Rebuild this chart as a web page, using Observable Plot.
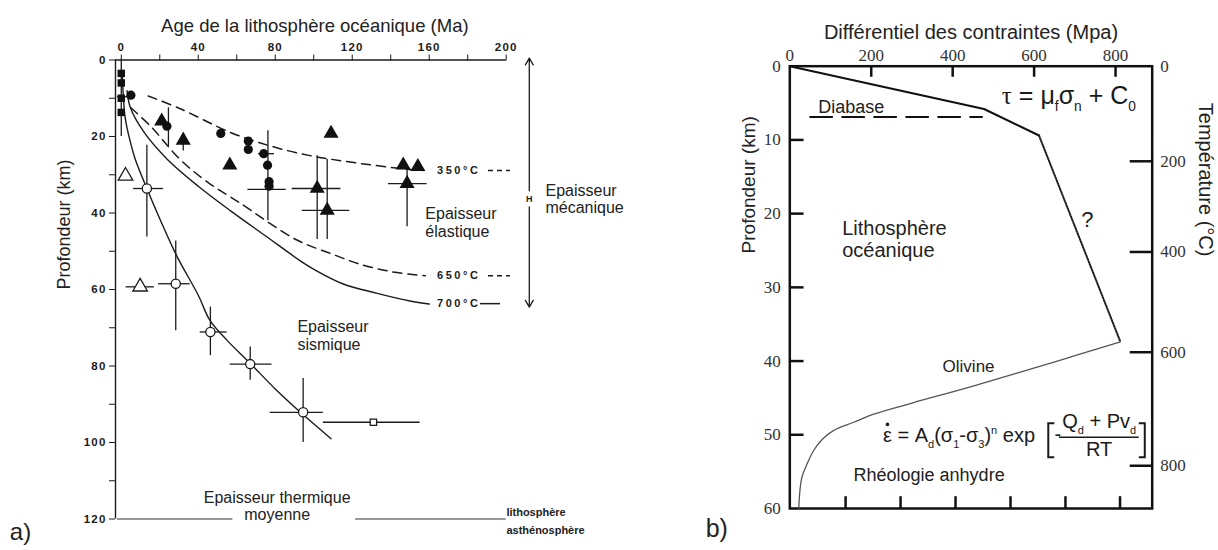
<!DOCTYPE html>
<html><head><meta charset="utf-8">
<script src="https://cdn.jsdelivr.net/npm/d3@7"></script>
<script src="https://cdn.jsdelivr.net/npm/@observablehq/plot@0.6"></script>
<style>
body{margin:0;background:#fff;}
#wrap{position:relative;width:1218px;height:550px;overflow:hidden;}
#wrap svg{position:absolute;top:0;}
</style></head><body><div id="wrap"></div>
<script>
// ================= Panel a) : age vs depth =================
const ageTicks = [0, 20, 40, 60, 80, 100, 120, 140, 160, 180, 200];
const ageLabels = [0, 40, 80, 120, 160, 200];
const depthTicksA = [0, 10, 20, 30, 40, 50, 60, 70, 80, 90, 100, 110, 120];
const depthLabelsA = [0, 20, 40, 60, 80, 100, 120];

const iso350Age = [14, 30, 58, 79, 98, 115, 131, 145, 157];
const iso350Depth = [9.4, 12.6, 19.2, 22.7, 25, 26.4, 27.5, 28.4, 28.9];
const iso650Age = [5, 15.4, 30.6, 45, 60.8, 91, 110, 122.8, 140, 158];
const iso650Depth = [12.5, 17.4, 26, 32, 37.1, 47, 50.8, 53.2, 55.3, 56.4];
const iso700Age = [3, 4.7, 12, 24, 40, 57, 75, 93, 101, 115, 133, 150, 160];
const iso700Depth = [8, 12.4, 19, 26, 33, 39.5, 46, 52.5, 55, 58.5, 61, 63, 63.8];
const seisCurveAge = [0.5, 2, 5, 7.3, 13.3, 20, 29, 40, 46, 55, 67, 80, 94, 109];
const seisCurveDepth = [3, 15, 22, 26, 33.6, 41.5, 51.4, 61.5, 68, 73.3, 79.3, 86, 92.5, 99];

// seismic thickness points (open circles) with error bars
const seisPtAge = [13.3, 28.3, 46.3, 67, 94.5];
const seisPtDepth = [33.6, 58.5, 71.1, 79.5, 92.1];
const seisAgeLo = [6.4, 19.4, 41, 56.6, 77.4];
const seisAgeHi = [22, 35.8, 55, 78.3, 105];
const seisDepthLo = [22.3, 47.3, 64.6, 75, 83.3];
const seisDepthHi = [46.3, 70.8, 77.3, 83.7, 100];
// open square & open triangles
const openSqAge = [131], openSqDepth = [94.7], openSqAgeLo = [105], openSqAgeHi = [155.3];
const openTriAge = [2.2, 9.8], openTriDepth = [30.3, 59.3];
const openTriAgeLo = [null, 2.5], openTriAgeHi = [null, 17.2];
// elastic / mechanical data (filled symbols)
const circAge = [5, 23.7, 51.7, 66, 66, 74, 76, 76.8, 76.8];
const circDepth = [9.2, 17.3, 19.2, 21.2, 23.4, 24.5, 27.5, 31.8, 33.0];
const triAge = [21, 32.2, 56.4, 109, 101.8, 107, 146.5, 154.1, 148.5];
const triDepth = [16, 21, 27.5, 19.2, 33.6, 39.3, 27.5, 27.9, 32.3];
const sqAge = [0, 0, 0, 0];
const sqDepth = [3.5, 6, 10, 13.7];
const hBarDepth = [33.8, 33.6, 39.3, 32.3, 24.5, 9.6];
const hBarLo = [65.8, 88.8, 94, 138.8, 71.3, -2];
const hBarHi = [85.7, 114.1, 118.7, 158.9, 79.6, 4];
const vBarAge = [0, 24.5, 32.2, 76.2, 101.8, 107, 148.5];
const vBarLo = [0, 12.5, 19.6, 18.5, 25, 26, 28.5];
const vBarHi = [20, 22.6, 23.8, 42, 46.9, 46.9, 43.6];

// ================= Panel b) : strength envelope =================
const stressTicks = [0, 200, 400, 600, 800];
const depthTicksB = [0, 10, 20, 30, 40, 50, 60];
const tempTicks = [0, 200, 400, 600, 800];
const tempTickDepth = [0, 12.9, 25.2, 38.8, 54.2];
const bottomTickStress = [137, 272, 407, 542, 677, 811];
const brittleStress = [0, 477, 612];
const brittleDepth = [0, 5.8, 9.4];
const transStress = [612, 812];
const transDepth = [9.4, 37.4];
const olivineStress = [812, 657, 450, 300, 206, 157, 108, 80, 59, 42, 30, 25, 22];
const olivineDepth = [37.4, 40, 43.4, 45.7, 47.2, 48.3, 49.4, 50.6, 52.1, 54, 55.7, 57.5, 60];
const diabaseStress = [50, 472];
const diabaseDepth = [6.9, 6.9];

// ================= helpers =================
const F = "'Liberation Sans', Arial, Helvetica, sans-serif";
const SERIF = "'Liberation Serif', 'Times New Roman', serif";
const INK = "#1b1b1b";
const pts = (xs, ys) => xs.map((x, i) => ({x, y: ys[i]}));
const wrap = document.getElementById("wrap");

// ================= Plot a) =================
const bars = (lo, hi, at) => lo.map((l, i) => ({lo: l, hi: hi[i], at: at[i]})).filter(d => d.lo != null);

const left = Plot.plot({
  width: 640, height: 550,
  marginLeft: 115, marginRight: 134.3, marginTop: 59.5, marginBottom: 31.5,
  style: {fontFamily: F, color: INK, background: "transparent"},
  x: {domain: [-3, 200]},
  y: {domain: [0, 120], reverse: true},
  marks: [
    Plot.axisX(ageTicks, {anchor: "top", tickSize: 6, tickPadding: 3, tickFormat: d => ageLabels.includes(d) ? String(d) : "", fontSize: 11.5, fontWeight: "bold", label: null}),
    Plot.axisY(depthTicksA, {anchor: "left", tickSize: 6, tickPadding: 3, tickFormat: d => depthLabelsA.includes(d) ? String(d) : "", fontSize: 11.5, fontWeight: "bold", label: null}),
    Plot.ruleY([0], {x1: -3, x2: 200, stroke: INK, strokeWidth: 1.4}),
    Plot.ruleX([-3], {y1: 0, y2: 120, stroke: INK, strokeWidth: 1.4}),
    // curves
    Plot.line(pts(iso350Age, iso350Depth), {x: "x", y: "y", stroke: INK, strokeWidth: 1.5, strokeDasharray: "9,6", curve: "catmull-rom"}),
    Plot.line(pts(iso650Age, iso650Depth), {x: "x", y: "y", stroke: INK, strokeWidth: 1.5, strokeDasharray: "9,6", curve: "catmull-rom"}),
    Plot.line(pts(iso700Age, iso700Depth), {x: "x", y: "y", stroke: INK, strokeWidth: 1.4, curve: "catmull-rom"}),
    Plot.line(pts(seisCurveAge, seisCurveDepth), {x: "x", y: "y", stroke: INK, strokeWidth: 1.4, curve: "catmull-rom"}),
    // error bars
    Plot.ruleY(bars(seisAgeLo, seisAgeHi, seisPtDepth), {y: "at", x1: "lo", x2: "hi", stroke: INK, strokeWidth: 1.3}),
    Plot.ruleX(bars(seisDepthLo, seisDepthHi, seisPtAge), {x: "at", y1: "lo", y2: "hi", stroke: INK, strokeWidth: 1.3}),
    Plot.ruleY(bars(openSqAgeLo, openSqAgeHi, openSqDepth), {y: "at", x1: "lo", x2: "hi", stroke: INK, strokeWidth: 1.3}),
    Plot.ruleY(bars(openTriAgeLo, openTriAgeHi, openTriDepth), {y: "at", x1: "lo", x2: "hi", stroke: INK, strokeWidth: 1.3}),
    Plot.ruleY(bars(hBarLo, hBarHi, hBarDepth), {y: "at", x1: "lo", x2: "hi", stroke: INK, strokeWidth: 1.3}),
    Plot.ruleX(bars(vBarLo, vBarHi, vBarAge), {x: "at", y1: "lo", y2: "hi", stroke: INK, strokeWidth: 1.3}),
    // symbols
    Plot.dot(pts(sqAge, sqDepth), {x: "x", y: "y", symbol: "square", r: 4.2, fill: "#111", stroke: "none"}),
    Plot.dot(pts(circAge, circDepth), {x: "x", y: "y", symbol: "circle", r: 4.6, fill: "#111", stroke: "none"}),
    Plot.dot(pts(triAge, triDepth), {x: "x", y: "y", symbol: "triangle", r: 5.6, fill: "#111", stroke: "none"}),
    Plot.dot(pts(seisPtAge, seisPtDepth), {x: "x", y: "y", symbol: "circle", r: 4.6, fill: "white", stroke: INK, strokeWidth: 1.3}),
    Plot.dot(pts(openSqAge, openSqDepth), {x: "x", y: "y", symbol: "square", r: 3.6, fill: "white", stroke: INK, strokeWidth: 1.3}),
    Plot.dot(pts(openTriAge, openTriDepth), {x: "x", y: "y", symbol: "triangle", r: 5.4, fill: "white", stroke: INK, strokeWidth: 1.3}),
    // isotherm labels
    Plot.text([{t: "350°C", x: 164, y: 28.9}, {t: "650°C", x: 164, y: 56.4}, {t: "700°C", x: 164, y: 63.7}],
      {x: "x", y: "y", text: "t", textAnchor: "start", fontSize: 11, fontWeight: "bold", fill: INK}),
    Plot.ruleY([{y: 28.9, a: 190.8, b: 202.2}, {y: 56.4, a: 190.8, b: 202.2}], {y: "y", x1: "a", x2: "b", stroke: INK, strokeWidth: 1.5, strokeDasharray: "5,4"}),
    Plot.ruleY([{y: 63.7, a: 186.6, b: 197}], {y: "y", x1: "a", x2: "b", stroke: INK, strokeWidth: 1.5}),
    // thermal thickness line at 120 km
    Plot.ruleY([{y: 120, a: -2, b: 58}, {y: 120, a: 121.8, b: 200}], {y: "y", x1: "a", x2: "b", stroke: "#777", strokeWidth: 1.3}),
    // mechanical thickness arrow
    Plot.arrow([{x: 212, a: 34.2, b: -0.5}, {x: 212, a: 38.4, b: 64.6}], {x: "x", y1: "a", y2: "b", stroke: INK, strokeWidth: 1.3, headLength: 9}),
    Plot.text([{x: 212, y: 36.3}], {x: "x", y: "y", text: () => "H", fontSize: 9, fontWeight: "bold", fill: INK}),
    // labels
    Plot.text([
      {t: "Epaisseur\nélastique", x: 158, y: 42.4},
      {t: "Epaisseur\nsismique", x: 91.5, y: 72},
      {t: "Epaisseur\nmécanique", x: 220.4, y: 36.3}
    ], {x: "x", y: "y", text: "t", textAnchor: "start", fontSize: 16, lineHeight: 1.1, fill: "#222"}),
    Plot.text([{t: "Epaisseur thermique\nmoyenne", x: 81, y: 116.7}], {x: "x", y: "y", text: "t", textAnchor: "middle", fontSize: 16, lineHeight: 1.05, fill: "#222"}),
    Plot.text([{t: "lithosphère\nasthénosphère", x: 200.1, y: 120.1}], {x: "x", y: "y", text: "t", textAnchor: "start", fontSize: 11, fontWeight: "bold", lineHeight: 1.62, fill: "#222"}),
    Plot.text(["Age de la lithosphère océanique (Ma)"], {frameAnchor: "top", dy: -41, dx: 4, fontSize: 18.5, fill: "#222"}),
    Plot.text(["Profondeur (km)"], {frameAnchor: "left", dx: -51, rotate: -90, fontSize: 18, fill: "#222"}),
    Plot.text(["a)"], {frameAnchor: "bottom-left", textAnchor: "middle", lineAnchor: "middle", dx: -95, dy: 13, fontSize: 24, fill: "#222"})
  ]
});
left.style.left = "0px";
wrap.appendChild(left);

// ================= Plot b) =================
const right = Plot.plot({
  width: 578, height: 550,
  marginLeft: 149.3, marginRight: 66.3, marginTop: 65.7, marginBottom: 42,
  style: {fontFamily: F, color: "#111", background: "transparent"},
  x: {domain: [0, 890]},
  y: {domain: [0, 60], reverse: true},
  marks: [
    Plot.axisX(stressTicks, {anchor: "top", tickSize: 0, tickPadding: 5, fontFamily: SERIF, fontSize: 17, label: null, fill: "#333"}),
    Plot.axisY(depthTicksB, {anchor: "left", tickSize: 0, tickPadding: 9, fontFamily: SERIF, fontSize: 17, label: null, fill: "#333"}),
    Plot.ruleX(stressTicks.slice(1), {y1: 0, y2: 1.5, stroke: "#111", strokeWidth: 2.5}),
    Plot.ruleY(depthTicksB.slice(1, -1), {x1: 0, x2: 35, stroke: "#111", strokeWidth: 2.5}),
    Plot.ruleX(bottomTickStress, {y1: 60, y2: 58.4, stroke: "#111", strokeWidth: 2.5}),
    Plot.ruleY(tempTickDepth.slice(1), {x1: 890, x2: 836, stroke: "#111", strokeWidth: 2.5}),
    Plot.text(tempTicks.map((t, i) => ({t: String(t), y: tempTickDepth[i]})), {x: 890, y: "y", text: "t", dx: 8, textAnchor: "start", fontFamily: SERIF, fontSize: 17, fill: "#333"}),
    Plot.frame({stroke: "#111", strokeWidth: 2.5}),
    // curves
    Plot.line(pts(diabaseStress, diabaseDepth), {x: "x", y: "y", stroke: "#111", strokeWidth: 2, strokeDasharray: "22,10"}),
    Plot.line(pts(brittleStress, brittleDepth), {x: "x", y: "y", stroke: "#111", strokeWidth: 2.2}),
    Plot.line(pts(transStress, transDepth), {x: "x", y: "y", stroke: "#222", strokeWidth: 2, strokeDasharray: "1.5,1.5"}),
    Plot.line(pts(olivineStress, olivineDepth), {x: "x", y: "y", stroke: "#555", strokeWidth: 1.3, curve: "catmull-rom"}),
    // labels
    Plot.text([{t: "Diabase", x: 70, y: 5.56}], {x: "x", y: "y", text: "t", textAnchor: "start", fontSize: 18, fill: "#222"}),
    Plot.text([{t: "?", x: 730.7, y: 20.9}], {x: "x", y: "y", text: "t", fontSize: 22, fill: "#222"}),
    Plot.text([{t: "Lithosphère\nocéanique", x: 128.7, y: 23.5}], {x: "x", y: "y", text: "t", textAnchor: "start", fontSize: 20, lineHeight: 1.1, fill: "#222"}),
    Plot.text([{t: "Olivine", x: 439, y: 40.8}], {x: "x", y: "y", text: "t", fontSize: 17, fill: "#222"}),
    Plot.text([{t: "Rhéologie anhydre", x: 156.5, y: 55.5}], {x: "x", y: "y", text: "t", textAnchor: "start", fontSize: 18, fill: "#222"}),
    Plot.text(["Différentiel des contraintes (Mpa)"], {frameAnchor: "top", dy: -41, fontSize: 20, fill: "#222"}),
    Plot.text([{t: "Profondeur (km)", y: 25.4}], {frameAnchor: "left", y: "y", text: "t", dx: -41, rotate: -90, fontSize: 19, fill: "#222"}),
    Plot.text([{t: "Température (°C)", y: 25.8}], {frameAnchor: "right", y: "y", text: "t", dx: 53, rotate: 90, fontSize: 20, fill: "#222"}),
    Plot.text(["b)"], {frameAnchor: "bottom-left", textAnchor: "middle", lineAnchor: "middle", dx: -73, dy: 20, fontSize: 25, fill: "#222"})
  ]
});
right.style.left = "640px";
wrap.appendChild(right);

// ---------- rich-text equations (positioned through panel b scales) ----------
function scaler(plot, name) {
  const s = plot.scale(name);
  if (s && typeof s.apply === "function") return v => s.apply(v);
  return d3.scaleLinear(s.domain, s.range);
}
const bx = scaler(right, "x"), by = scaler(right, "y");
function rich(svg, x, y, parts, {size = 18, family = F, anchor = "start"} = {}) {
  const t = d3.select(svg).append("text").attr("x", x).attr("y", y)
    .attr("font-size", size).attr("font-family", family).attr("text-anchor", anchor).attr("fill", "#1a1a1a");
  let shift = 0;
  for (const p of parts) {
    const s = typeof p === "string" ? {t: p} : p;
    const target = s.sub ? size * 0.28 : s.sup ? -size * 0.42 : 0;
    const ts = t.append("tspan").text(s.t).attr("dy", target - shift);
    if (s.sub || s.sup) ts.attr("font-size", size * 0.55);
    if (s.family) ts.attr("font-family", s.family);
    shift = target;
  }
  return t;
}
// tau = mu_f sigma_n + C_0
const eq1 = {stress: 522, depth: 5.2};
rich(right, bx(eq1.stress), by(eq1.depth), [{t: "τ", family: SERIF}, " = μ", {t: "f", sub: 1}, "σ", {t: "n", sub: 1}, " + C", {t: "0", sub: 1}], {size: 25});
// flow law
const eq2 = {stress: 230, depth: 51.1, bracketL: 636, bracketR: 873, dash: 651, fracL: 662, fracR: 858, fracMid: 761, top: 48.5, bottom: 53.1, line: 50.4, num: 49.2, den: 53.0};
rich(right, bx(eq2.stress), by(eq2.depth), ["ε = A", {t: "d", sub: 1}, "(σ", {t: "1", sub: 1}, "-σ", {t: "3", sub: 1}, ")", {t: "n", sup: 1}, " exp"], {size: 20});
// dot of the strain rate (epsilon-dot)
d3.select(right).append("circle").attr("cx", bx(eq2.stress) + 4.5).attr("cy", by(eq2.depth) - 18).attr("r", 1.8).attr("fill", "#1a1a1a");
rich(right, bx(eq2.dash), by(eq2.depth) - 1, ["-"], {size: 20});
rich(right, bx(eq2.fracMid), by(eq2.num), ["Q", {t: "d", sub: 1}, " + Pv", {t: "d", sub: 1}], {size: 20, anchor: "middle"});
rich(right, bx(eq2.fracMid), by(eq2.den), ["RT"], {size: 20, anchor: "middle"});
const g = d3.select(right).append("g").attr("fill", "none").attr("stroke", "#1a1a1a");
g.append("line").attr("x1", bx(eq2.fracL)).attr("x2", bx(eq2.fracR)).attr("y1", by(eq2.line)).attr("y2", by(eq2.line)).attr("stroke-width", 1.5);
const bl = bx(eq2.bracketL), br = bx(eq2.bracketR), bt = by(eq2.top), bb = by(eq2.bottom);
g.append("path").attr("d", `M${bl + 6},${bt}H${bl}V${bb}H${bl + 6}`).attr("stroke-width", 2);
g.append("path").attr("d", `M${br - 6},${bt}H${br}V${bb}H${br - 6}`).attr("stroke-width", 2);

// letter spacing for typewriter-like labels of panel a
d3.select(left).selectAll("text").filter(function () { return /°C$/.test(this.textContent); }).attr("letter-spacing", 2.6);
d3.select(left).selectAll('g[aria-label="x-axis tick label"] text, g[aria-label="y-axis tick label"] text').attr("letter-spacing", 1.2);
</script>
</body></html>
